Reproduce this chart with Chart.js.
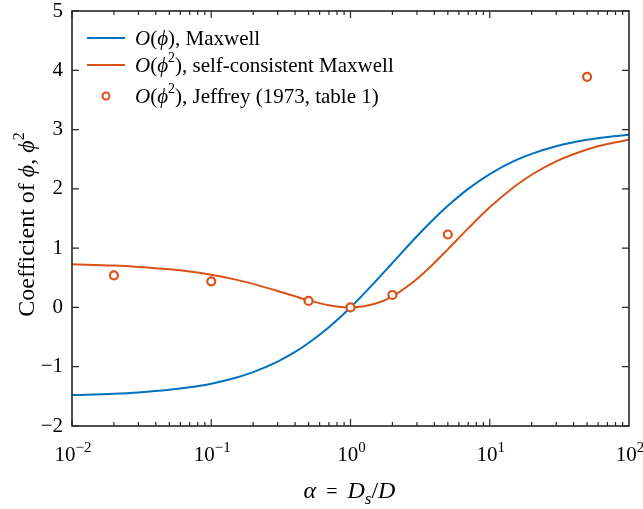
<!DOCTYPE html>
<html>
<head>
<meta charset="utf-8">
<script src="https://cdn.jsdelivr.net/npm/chart.js@4/dist/chart.umd.min.js"></script>
<style>
  html, body { margin: 0; padding: 0; background: #fff; }
  #wrap { width: 643px; height: 509px; }
</style>
</head>
<body>
<div id="wrap"><canvas id="chart" width="643" height="509"></canvas></div>
<script>
// alpha values for the two curves
const alphaCurve = [0.01, 0.02, 0.03, 0.05, 0.07, 0.1, 0.15, 0.2, 0.3, 0.4, 0.5, 0.7, 1, 1.5, 2, 3, 4, 5, 7, 10, 15, 20, 30, 50, 70, 100];
// O(phi), Maxwell
const maxwellVals = [-1.478, -1.455, -1.433, -1.390, -1.348, -1.286, -1.186, -1.091, -0.913, -0.75, -0.6, -0.333, 0, 0.429, 0.75, 1.2, 1.5, 1.714, 2.0, 2.25, 2.471, 2.591, 2.719, 2.827, 2.875, 2.912];
// O(phi^2), self-consistent Maxwell
const selfConsVals = [0.728, 0.706, 0.684, 0.644, 0.606, 0.551, 0.469, 0.397, 0.278, 0.188, 0.12, 0.037, 0, 0.061, 0.188, 0.48, 0.75, 0.98, 1.333, 1.688, 2.035, 2.238, 2.464, 2.664, 2.755, 2.827];
// Jeffrey (1973) points
const jeffreyAlpha = [0.02, 0.1, 0.5, 1, 2, 5, 50];
const jeffreyVals = [0.54, 0.44, 0.11, 0, 0.21, 1.23, 3.89];

const xTickExp = [-2, -1, 0, 1, 2];
const yTickVals = [-2, -1, 0, 1, 2, 3, 4, 5];

const blue = '#0072BD';
const orange = '#D95319';
const axisColor = '#262626';
const serif = '"Liberation Serif", "DejaVu Serif", serif';
const PHI = '\u03d5';

const toPts = (xs, ys) => xs.map((x, i) => ({ x: x, y: ys[i] }));

// draws a list of [text, style, dy, size] pieces left to right
function drawRich(ctx, pieces, x, y, align) {
  let total = 0;
  pieces.forEach(p => {
    ctx.font = (p[1] || '') + ' ' + p[3] + 'px ' + serif;
    total += ctx.measureText(p[0]).width;
  });
  let cx = x;
  if (align === 'center') cx = x - total / 2;
  if (align === 'right') cx = x - total;
  ctx.textAlign = 'left';
  pieces.forEach(p => {
    ctx.font = (p[1] || '') + ' ' + p[3] + 'px ' + serif;
    ctx.fillText(p[0], cx, y + (p[2] || 0));
    cx += ctx.measureText(p[0]).width;
  });
}

const framePlugin = {
  id: 'frame',
  afterDraw(chart) {
    const ctx = chart.ctx;
    const a = chart.chartArea;
    const xs = chart.scales.x;
    const ys = chart.scales.y;
    ctx.save();
    ctx.strokeStyle = axisColor;
    ctx.fillStyle = '#000';
    ctx.lineWidth = 1.6;
    ctx.strokeRect(a.left, a.top, a.right - a.left, a.bottom - a.top);

    // x ticks (major + minor), on bottom and top
    ctx.lineWidth = 1.2;
    for (let e = -2; e <= 1; e++) {
      for (let m = 1; m <= 9; m++) {
        const v = m * Math.pow(10, e);
        const px = xs.getPixelForValue(v);
        const len = m === 1 ? 7 : 4;
        ctx.beginPath();
        ctx.moveTo(px, a.bottom); ctx.lineTo(px, a.bottom - len);
        ctx.moveTo(px, a.top); ctx.lineTo(px, a.top + len);
        ctx.stroke();
      }
    }
    // y ticks, left and right
    yTickVals.forEach(v => {
      const py = ys.getPixelForValue(v);
      ctx.beginPath();
      ctx.moveTo(a.left, py); ctx.lineTo(a.left + 7, py);
      ctx.moveTo(a.right, py); ctx.lineTo(a.right - 7, py);
      ctx.stroke();
    });

    // y tick labels
    ctx.textBaseline = 'middle';
    yTickVals.forEach(v => {
      const py = ys.getPixelForValue(v);
      const txt = v < 0 ? '\u2212' + Math.abs(v) : String(v);
      drawRich(ctx, [[txt, '', 0, 21]], a.left - 9, py, 'right');
    });

    // x tick labels 10^n
    ctx.textBaseline = 'alphabetic';
    xTickExp.forEach(e => {
      const px = xs.getPixelForValue(Math.pow(10, e));
      const sup = e < 0 ? '\u2212' + Math.abs(e) : String(e);
      drawRich(ctx, [['10', '', 0, 21], [sup, '', -9, 15]], px + 1, a.bottom + 35, 'center');
    });

    // x axis title
    drawRich(ctx, [['\u03b1', 'italic', 0, 24], ['  =  ', '', 0, 20], ['D', 'italic', 0, 24], ['s', 'italic', 6, 17], ['/', '', 0, 24], ['D', 'italic', 0, 24]],
      (a.left + a.right) / 2 - 1, a.bottom + 72, 'center');

    // y axis title
    ctx.save();
    ctx.translate(34, (a.top + a.bottom) / 2 + 6);
    ctx.rotate(-Math.PI / 2);
    drawRich(ctx, [['Coefficient of ', '', 0, 24], [PHI, 'italic', 0, 24], [', ', '', 0, 24], [PHI, 'italic', 0, 24], ['2', '', -10, 16]], 0, 0, 'center');
    ctx.restore();

    // legend
    const lx = a.left + 15;
    const rows = [
      { y: a.top + 27, kind: 'line', color: blue, text: [['O', 'italic', 0, 21], ['(', '', 0, 21], [PHI, 'italic', 0, 21], ['), Maxwell', '', 0, 21]] },
      { y: a.top + 54, kind: 'line', color: orange, text: [['O', 'italic', 0, 21], ['(', '', 0, 21], [PHI, 'italic', 0, 21], ['2', '', -8, 14], ['), self-consistent Maxwell', '', 0, 21]] },
      { y: a.top + 85, kind: 'marker', color: orange, text: [['O', 'italic', 0, 21], ['(', '', 0, 21], [PHI, 'italic', 0, 21], ['2', '', -8, 14], ['), Jeffrey (1973, table 1)', '', 0, 21]] }
    ];
    rows.forEach(r => {
      ctx.strokeStyle = r.color;
      ctx.lineWidth = 2;
      if (r.kind === 'line') {
        ctx.beginPath();
        ctx.moveTo(lx, r.y); ctx.lineTo(lx + 38, r.y);
        ctx.stroke();
      } else {
        ctx.beginPath();
        ctx.arc(lx + 19, r.y, 3.5, 0, Math.PI * 2);
        ctx.fillStyle = '#fff';
        ctx.fill();
        ctx.stroke();
      }
      ctx.fillStyle = '#000';
      ctx.textBaseline = 'middle';
      drawRich(ctx, r.text, lx + 48, r.y + 1, 'left');
    });
    ctx.restore();
  }
};

new Chart(document.getElementById('chart'), {
  type: 'scatter',
  data: {
    datasets: [
      {
        label: 'O(phi), Maxwell',
        data: toPts(alphaCurve, maxwellVals),
        showLine: true,
        borderColor: blue,
        borderWidth: 2,
        pointRadius: 0,
        cubicInterpolationMode: 'monotone',
        order: 3
      },
      {
        label: 'O(phi^2), self-consistent Maxwell',
        data: toPts(alphaCurve, selfConsVals),
        showLine: true,
        borderColor: orange,
        borderWidth: 2,
        pointRadius: 0,
        cubicInterpolationMode: 'monotone',
        order: 2
      },
      {
        label: 'O(phi^2), Jeffrey (1973, table 1)',
        data: toPts(jeffreyAlpha, jeffreyVals),
        showLine: false,
        borderColor: orange,
        backgroundColor: '#fff',
        borderWidth: 2.2,
        pointRadius: 4,
        order: 1
      }
    ]
  },
  options: {
    responsive: false,
    animation: false,
    layout: { padding: { left: 64, right: 14, top: 11, bottom: 75 } },
    plugins: {
      legend: { display: false },
      tooltip: { enabled: false }
    },
    scales: {
      x: {
        type: 'logarithmic',
        min: 0.01,
        max: 100,
        grid: { display: false },
        border: { display: false },
        ticks: { display: false }
      },
      y: {
        type: 'linear',
        min: -2,
        max: 5,
        grid: { display: false },
        border: { display: false },
        ticks: { display: false }
      }
    }
  },
  plugins: [framePlugin]
});
</script>
</body>
</html>
